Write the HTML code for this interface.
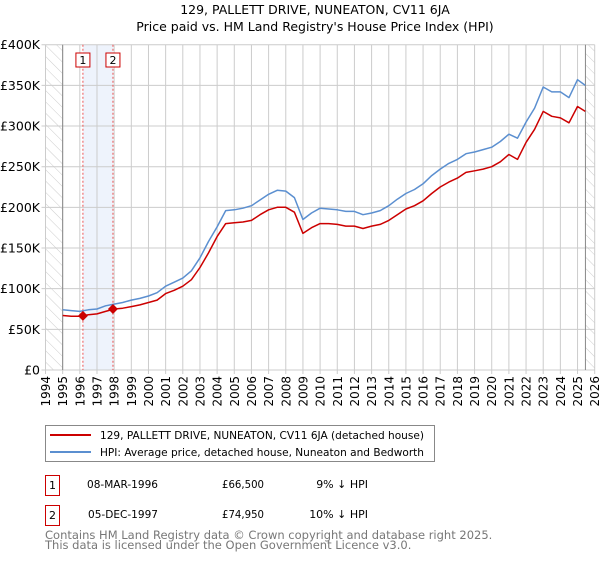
<!DOCTYPE html>
<html><head><meta charset="utf-8"><style>
body{margin:0;background:#fff;font-family:"DejaVu Sans","Liberation Sans",sans-serif;}
svg text{font-family:"DejaVu Sans","Liberation Sans",sans-serif;}
</style></head><body>
<svg id="chart" width="600" height="560" xmlns="http://www.w3.org/2000/svg">
<defs><pattern id="hatch" width="8" height="8" patternUnits="userSpaceOnUse" patternTransform="rotate(-45)"><line x1="0" y1="0" x2="0" y2="8" stroke="#ccc" stroke-width="1"/></pattern></defs>
<text x="315" y="14" text-anchor="middle" font-size="12.5">129, PALLETT DRIVE, NUNEATON, CV11 6JA</text>
<text x="315" y="31" text-anchor="middle" font-size="12.5">Price paid vs. HM Land Registry's House Price Index (HPI)</text>
<g id="grid"></g><g id="axes"></g><g id="series"></g>
<g>
<rect x="45.5" y="425.5" width="389" height="36" fill="#fff" stroke="#888"/>
<line x1="50" y1="435" x2="91" y2="435" stroke="#cc0000" stroke-width="2"/>
<text x="100" y="439" font-size="11" textLength="324" lengthAdjust="spacingAndGlyphs">129, PALLETT DRIVE, NUNEATON, CV11 6JA (detached house)</text>
<line x1="50" y1="452" x2="91" y2="452" stroke="#5b8fd0" stroke-width="2"/>
<text x="100" y="456" font-size="11" textLength="324" lengthAdjust="spacingAndGlyphs">HPI: Average price, detached house, Nuneaton and Bedworth</text>
</g>
<g font-size="11">
<rect x="45.5" y="475.5" width="14" height="20" fill="#fff" stroke="#cc0000"/><text x="52.5" y="489" text-anchor="middle">1</text>
<text x="87" y="488" textLength="71" lengthAdjust="spacingAndGlyphs">08-MAR-1996</text><text x="222" y="488" textLength="42" lengthAdjust="spacingAndGlyphs">£66,500</text><text x="368" y="488" text-anchor="end">9% ↓ HPI</text>
<rect x="45.5" y="505.5" width="14" height="20" fill="#fff" stroke="#cc0000"/><text x="52.5" y="519" text-anchor="middle">2</text>
<text x="88" y="518" textLength="70" lengthAdjust="spacingAndGlyphs">05-DEC-1997</text><text x="222" y="518" textLength="42" lengthAdjust="spacingAndGlyphs">£74,950</text><text x="368" y="518" text-anchor="end">10% ↓ HPI</text>
</g>
<text x="45" y="539" font-size="11.5" fill="#777">Contains HM Land Registry data © Crown copyright and database right 2025.</text>
<text x="45" y="549" font-size="11.5" fill="#777">This data is licensed under the Open Government Licence v3.0.</text>
</svg>
<script>
const yearTicks=[1994,1995,1996,1997,1998,1999,2000,2001,2002,2003,2004,2005,2006,2007,2008,2009,2010,2011,2012,2013,2014,2015,2016,2017,2018,2019,2020,2021,2022,2023,2024,2025,2026];
const yTicks=[0,50,100,150,200,250,300,350,400];
const yTickLabels=["£0","£50K","£100K","£150K","£200K","£250K","£300K","£350K","£400K"];
const dates=[1995,1995.5,1996,1996.5,1997,1997.5,1998,1998.5,1999,1999.5,2000,2000.5,2001,2001.5,2002,2002.5,2003,2003.5,2004,2004.5,2005,2005.5,2006,2006.5,2007,2007.5,2008,2008.5,2009,2009.5,2010,2010.5,2011,2011.5,2012,2012.5,2013,2013.5,2014,2014.5,2015,2015.5,2016,2016.5,2017,2017.5,2018,2018.5,2019,2019.5,2020,2020.5,2021,2021.5,2022,2022.5,2023,2023.5,2024,2024.5,2025,2025.45];
const hpi=[74,73,72,74,75,79,81,83,86,88,91,95,103,108,113,122,138,158,176,196,197,199,202,209,216,221,220,212,185,193,199,198,197,195,195,191,193,196,202,210,217,222,229,239,247,254,259,266,268,271,274,281,290,285,305,322,348,342,342,335,357,350];
const price=[67,66,66,68,69,72,75,76,78,80,83,86,94,98,103,111,126,144,164,180,181,182,184,191,197,200,200,194,168,175,180,180,179,177,177,174,177,179,184,191,198,202,208,217,225,231,236,243,245,247,250,256,265,259,280,296,318,312,310,304,324,318];
const saleDates=[1996.18,1997.93];
const salePrices=[66.5,74.95];

const NS="http://www.w3.org/2000/svg";
const X0=45.5,X1=594.7,Y0=370,Y1=44.7;
const xs=y=>X0+(y-1994)/32*(X1-X0);
const ys=v=>Y0-v/400*(Y0-Y1);
function mk(tag,attrs,parent){const e=document.createElementNS(NS,tag);for(const k in attrs)e.setAttribute(k,attrs[k]);parent.appendChild(e);return e;}
const grid=document.getElementById('grid'),axes=document.getElementById('axes'),ser=document.getElementById('series');
let h1=mk('rect',{x:X0,y:Y1,width:xs(1995)-X0,height:Y0-Y1,fill:'url(#hatch)'},grid);


let h2=mk('rect',{x:xs(2025.46),y:Y1,width:X1-xs(2025.46),height:Y0-Y1,fill:'url(#hatch)'},grid);


let band=mk('rect',{x:xs(saleDates[0]),y:Y1,width:xs(saleDates[1])-xs(saleDates[0]),height:Y0-Y1,fill:'#eef3fc'},grid);


yearTicks.forEach(y=>{
 const l=mk('line',{x1:xs(y),x2:xs(y),y1:Y1,y2:Y0+4,stroke:'#ccc'},grid);
 
 
 const t=mk('text',{x:0,y:0,'font-size':12,'text-anchor':'end',transform:`translate(${xs(y)+4.5},${Y0+6}) rotate(-90)`},axes);
 t.textContent=y;
 
 
});
yTicks.forEach((v,i)=>{
 const l=mk('line',{x1:X0-4,x2:X1,y1:ys(v),y2:ys(v),stroke:'#ccc'},grid);
 
 
 const t=mk('text',{x:40,y:ys(v)+4.5,'font-size':12.5,'text-anchor':'end'},axes);
 t.textContent=yTickLabels[i];
 
 
});
[1995,2025.46].forEach(y=>{const l=mk('line',{x1:xs(y),x2:xs(y),y1:Y1,y2:Y0,stroke:'#888'},grid);
 
 });
saleDates.forEach((d,i)=>{
 const l=mk('line',{x1:xs(d),x2:xs(d),y1:Y1,y2:Y0,stroke:'#ee5555','stroke-dasharray':'2,2'},grid);
 
 
 const r=mk('rect',{x:xs(d)-7,y:53,width:14,height:14,fill:'#fff',stroke:'#cc0000'},axes);
 
 
 const t=mk('text',{x:xs(d),y:64,'font-size':11,'text-anchor':'middle'},axes);
 t.textContent=i+1;
 
 
});
function path(vals,color,name){
 const d=vals.map((v,i)=>(i?'L':'M')+xs(dates[i]).toFixed(1)+','+ys(v).toFixed(1)).join('');
 const p=mk('path',{d:d,fill:'none',stroke:color,'stroke-width':1.5,'stroke-linejoin':'round'},ser);
 
 
}
path(hpi,'#5b8fd0','hpi-line');
path(price,'#cc0000','price-line');
saleDates.forEach((d,i)=>{
 const cx=xs(d),cy=ys(salePrices[i]);
 const m=mk('path',{d:`M${cx},${cy-5}L${cx+5},${cy}L${cx},${cy+5}L${cx-5},${cy}Z`,fill:'#cc0000'},ser);
 
 
});
</script>
</body></html>
